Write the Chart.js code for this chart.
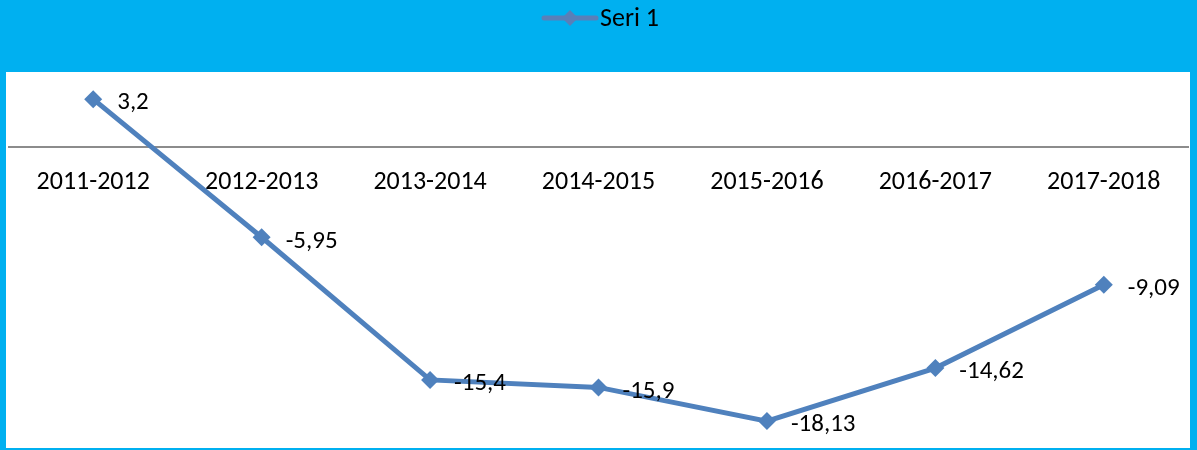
<!DOCTYPE html>
<html>
<head>
<meta charset="utf-8">
<script src="https://cdn.jsdelivr.net/npm/chart.js@4/dist/chart.umd.min.js"></script>
<style>
  html,body{margin:0;padding:0;background:#00B0F0;}
  #wrap{width:1197px;height:450px;}
</style>
</head>
<body>
<div id="wrap"><canvas id="c" width="1197" height="450"></canvas></div>
<script>
const categories = ['2011-2012','2012-2013','2013-2014','2014-2015','2015-2016','2016-2017','2017-2018'];
const seri1 = [3.2, -5.95, -15.4, -15.9, -18.13, -14.62, -9.09];
const seriesName = 'Seri 1';
// line chart keeps ~9px min padding for the markers, so the bottom of the range sits a bit higher
const yMin = -19.45, yMax = 5;

const FONT = 'Carlito, "Liberation Sans", sans-serif';
const LINE = '#4F81BD';

const fmt = v => String(v).replace('.', ',');

const frame = {
  id: 'frame',
  beforeDraw(ch){
    const c = ch.ctx;
    c.save();
    c.fillStyle = '#00B0F0'; c.fillRect(0,0,ch.width,ch.height);
    c.fillStyle = '#FFFFFF'; c.fillRect(6,72,1184,376);
    c.restore();
  }
};

const labels = {
  id: 'labels',
  afterDatasetsDraw(ch){
    const c = ch.ctx;
    c.save();
    c.font = '25px ' + FONT; c.fillStyle = '#000'; c.textBaseline = 'middle'; c.textAlign = 'left';
    ch.getDatasetMeta(0).data.forEach((p,i)=>{ c.fillText(fmt(seri1[i]), p.x + 24, p.y + 4); });
    // legend
    const cx = 600, cy = 18;
    c.strokeStyle = '#5A7FB8'; c.lineWidth = 5; c.lineCap = 'round';
    c.beginPath(); c.moveTo(cx-56, cy); c.lineTo(cx-4, cy); c.stroke();
    c.fillStyle = '#5A7FB8'; c.beginPath();
    c.moveTo(cx-30, cy-8); c.lineTo(cx-22, cy); c.lineTo(cx-30, cy+8); c.lineTo(cx-38, cy); c.closePath(); c.fill();
    c.font = '26px ' + FONT; c.fillStyle = '#000'; c.fillText(seriesName, cx, cy+1);
    c.restore();
  }
};

new Chart(document.getElementById('c'), {
  type: 'line',
  data: { labels: categories, datasets: [{
    label: seriesName, data: seri1, borderColor: LINE, backgroundColor: LINE,
    borderWidth: 5, pointStyle: 'rectRot', pointRadius: 9, pointBorderWidth: 0, tension: 0
  }]},
  options: {
    responsive: false, animation: false,
    layout: { padding: { left: 8, right: 9, top: 72, bottom: 3 } },
    plugins: { legend: { display: false }, tooltip: { enabled: false } },
    scales: {
      x: { position: { y: 0 }, offset: true,
        afterFit: s => { s.height = 0; },
        grid: { display: false, drawTicks: false },
        border: { display: true, color: '#8C8C8C', width: 2 },
        ticks: { color: '#000', font: { size: 26, family: FONT }, padding: 19, maxRotation: 0, autoSkip: false } },
      y: { display: false, min: yMin, max: yMax }
    }
  },
  plugins: [frame, labels]
});
</script>
</body>
</html>
